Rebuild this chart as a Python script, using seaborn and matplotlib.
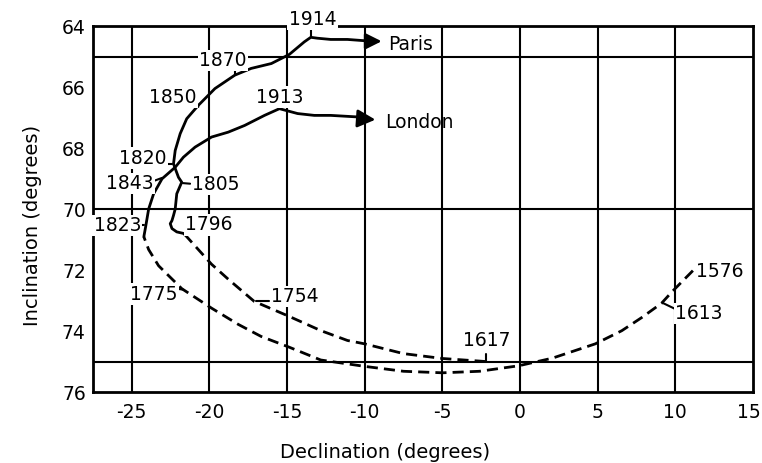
import numpy as np
import pandas as pd
import matplotlib
matplotlib.use("Agg")
import matplotlib.pyplot as plt
import matplotlib.transforms as mtransforms
import seaborn as sns

# ---------------- data (declination, inclination in degrees) ----------------
# Paris: dashed part 1617 -> 1796
paris_dash_x = [-2.2, -5.0, -7.5, -10.0, -11.1, -12.8, -14.9, -17.1, -18.8, -19.85, -20.7, -21.55]
paris_dash_y = [75.0, 74.9, 74.74, 74.42, 74.31, 73.99, 73.51, 73.03, 72.29, 71.81, 71.33, 70.85]
# Paris: solid part 1796 -> 1914
paris_solid_x = [-21.55, -21.66, -22.09, -22.4, -22.51, -22.4, -22.3, -22.19, -22.09, -21.77, -21.98,
                 -22.3, -22.19, -21.87, -21.45, -20.7, -19.63, -18.35, -17.3, -16.0, -14.84, -13.88,
                 -13.46, -13.03, -12.18, -11.1, -10.05, -9.45]
paris_solid_y = [70.85, 70.8, 70.75, 70.64, 70.48, 70.38, 70.21, 70.0, 69.5, 69.12, 68.96,
                 68.52, 68.08, 67.53, 67.04, 66.6, 66.05, 65.61, 65.39, 65.23, 64.93, 64.52,
                 64.37, 64.4, 64.44, 64.44, 64.48, 64.5]
paris_tip = (-8.9, 64.5)

# London: dashed part 1576 -> 1823
london_dash_x = [11.14, 9.8, 9.12, 7.84, 6.56, 4.86, 2.09, -0.08, -2.6, -4.98, -7.49, -9.98,
                 -12.82, -14.9, -16.65, -18.14, -19.85, -21.77, -23.26, -23.9, -24.21]
london_dash_y = [72.02, 72.71, 73.09, 73.56, 73.99, 74.42, 74.89, 75.14, 75.32, 75.37, 75.32, 75.16,
                 74.95, 74.52, 74.18, 73.78, 73.25, 72.61, 71.86, 71.33, 70.91]
# London: solid part 1823 -> 1913
london_solid_x = [-24.21, -24.1, -23.9, -23.58, -23.04, -22.19, -21.66, -20.91, -19.85, -18.78,
                  -17.72, -16.44, -15.48, -14.31, -13.24, -12.18, -10.48, -9.9]
london_solid_y = [70.91, 70.6, 70.0, 69.5, 69.01, 68.63, 68.3, 67.97, 67.64, 67.48,
                  67.26, 66.93, 66.71, 66.87, 66.93, 66.93, 66.98, 67.05]
london_tip = (-9.3, 67.07)

# year labels: text position and connector (from -> to)
year_text = ["1914", "1870", "1850", "1913", "1820", "1843", "1805", "1823", "1796",
             "1775", "1754", "1617", "1613", "1576"]
year_x = [-13.35, -19.1, -22.36, -15.46, -24.28, -25.1, -19.58, -25.92, -20.0,
          -23.58, -14.47, -2.12, 11.52, 12.85]
year_y = [63.78, 65.13, 66.33, 66.33, 68.33, 69.16, 69.2, 70.54, 70.52,
          72.79, 72.87, 74.3, 73.43, 72.05]
tick_from_x = [-13.46, -18.35, -20.91, -15.48, -22.94, -23.79, -21.23, -24.53, None,
               -22.3, -16.12, -2.15, 10.3, None]
tick_from_y = [64.1, 65.45, 66.54, 66.6, 68.52, 69.12, 69.17, 70.53, None,
               72.6, 73.03, 74.74, 73.35, None]
tick_to_x = [-13.46, -18.35, -20.7, -15.48, -22.4, -23.04, -21.7, -24.2, None,
             -21.7, -16.97, -2.15, 9.2, None]
tick_to_y = [64.37, 65.61, 66.65, 66.71, 68.52, 68.98, 69.15, 70.53, None,
             72.64, 73.03, 75.0, 73.08, None]

city_text = ["Paris", "London"]
city_x = [-8.5, -8.69]
city_y = [64.6, 67.15]

x_major = [-25, -20, -15, -10, -5, 0, 5, 10, 15]
y_major = [64, 66, 68, 70, 72, 74, 76]
x_grid = [-25, -20, -15, -10, -5, 0, 5, 10]
y_grid = [65, 70, 75]

# ---------------- plotting ----------------
sns.set_theme(style="white")
plt.rcParams["font.family"] = ["DejaVu Sans"]
plt.rcParams["axes.unicode_minus"] = False
plt.rcParams["text.color"] = "black"
plt.rcParams["axes.labelcolor"] = "black"
plt.rcParams["xtick.color"] = "black"
plt.rcParams["ytick.color"] = "black"

fig = plt.figure(figsize=(7.62, 4.63), dpi=100)
ax = fig.add_axes([0.1217, 0.1533, 0.8663, 0.7905])

for gx in x_grid:
    ax.axvline(gx, color="black", lw=1.5, zorder=1)
for gy in y_grid:
    ax.axhline(gy, color="black", lw=1.5, zorder=1)

def seg(xs, ys):
    return pd.DataFrame({"x": xs, "y": ys})

lw = 2.0
sns.lineplot(data=seg(paris_solid_x, paris_solid_y), x="x", y="y", sort=False,
             estimator=None, color="black", lw=lw, ax=ax, zorder=3)
sns.lineplot(data=seg(london_solid_x, london_solid_y), x="x", y="y", sort=False,
             estimator=None, color="black", lw=lw, ax=ax, zorder=3)
sns.lineplot(data=seg(paris_dash_x, paris_dash_y), x="x", y="y", sort=False,
             estimator=None, color="black", lw=lw, ax=ax, zorder=3)
sns.lineplot(data=seg(london_dash_x, london_dash_y), x="x", y="y", sort=False,
             estimator=None, color="black", lw=lw, ax=ax, zorder=3)
for ln in ax.get_lines()[-2:]:
    ln.set_dashes((4.0, 2.2))

# arrow heads
ax.annotate("", xy=paris_tip, xytext=(paris_solid_x[-1], paris_solid_y[-1]),
            arrowprops=dict(arrowstyle="-|>,head_length=0.8,head_width=0.4",
                            color="black", lw=lw, shrinkA=0, shrinkB=0), zorder=4)
ax.annotate("", xy=london_tip, xytext=(london_solid_x[-1], london_solid_y[-1]),
            arrowprops=dict(arrowstyle="-|>,head_length=0.9,head_width=0.45",
                            color="black", lw=lw, shrinkA=0, shrinkB=0), zorder=4)

# year labels with connectors
for t, tx, ty, fx, fy, ex, ey in zip(year_text, year_x, year_y, tick_from_x,
                                     tick_from_y, tick_to_x, tick_to_y):
    if fx is not None:
        ax.plot([fx, ex], [fy, ey], color="black", lw=1.5, zorder=3, clip_on=False)
    ax.text(tx, ty, t, ha="center", va="center", fontsize=13.5, zorder=5,
            color="black", clip_on=False,
            bbox=dict(facecolor="white", edgecolor="none", pad=1.0))

for t, tx, ty in zip(city_text, city_x, city_y):
    ax.text(tx, ty, t, ha="left", va="center", fontsize=13.5, color="black", zorder=5)

ax.set_xlim(-27.5, 15)
ax.set_ylim(76, 64)
ax.set_xticks(x_major)
ax.set_xticklabels([str(v) for v in x_major], fontsize=13.5)
ax.set_yticks(y_major)
ax.set_yticklabels([str(v) for v in y_major], fontsize=13.5)
ax.set_xticks(np.arange(-27, 16, 1), minor=True)
ax.set_yticks(np.arange(64, 77, 1), minor=True)
ax.tick_params(axis="both", which="both", direction="in", length=6, width=1.3,
               color="black", labelcolor="black")
ax.tick_params(axis="x", which="major", pad=8)
ax.tick_params(axis="y", which="major", pad=5)
ax.tick_params(top=False, right=False, which="both")

# keep the last x tick label ("15") just inside the figure edge
last_lbl = ax.get_xticklabels()[-1]
last_lbl.set_transform(last_lbl.get_transform() +
                       mtransforms.ScaledTranslation(-4 / 100, 0, fig.dpi_scale_trans))

for s in ax.spines.values():
    s.set_visible(True)
    s.set_color("black")
    s.set_linewidth(2.0)

ax.set_xlabel("Declination (degrees)", fontsize=14, color="black")
ax.set_ylabel("Inclination (degrees)", fontsize=14, color="black")
ax.xaxis.set_label_coords(0.443, -0.138)
ax.yaxis.set_label_coords(-0.077, 0.454)
ax.set_facecolor("white")
fig.patch.set_facecolor("white")

fig.savefig("out.png", dpi=100, facecolor="white")
